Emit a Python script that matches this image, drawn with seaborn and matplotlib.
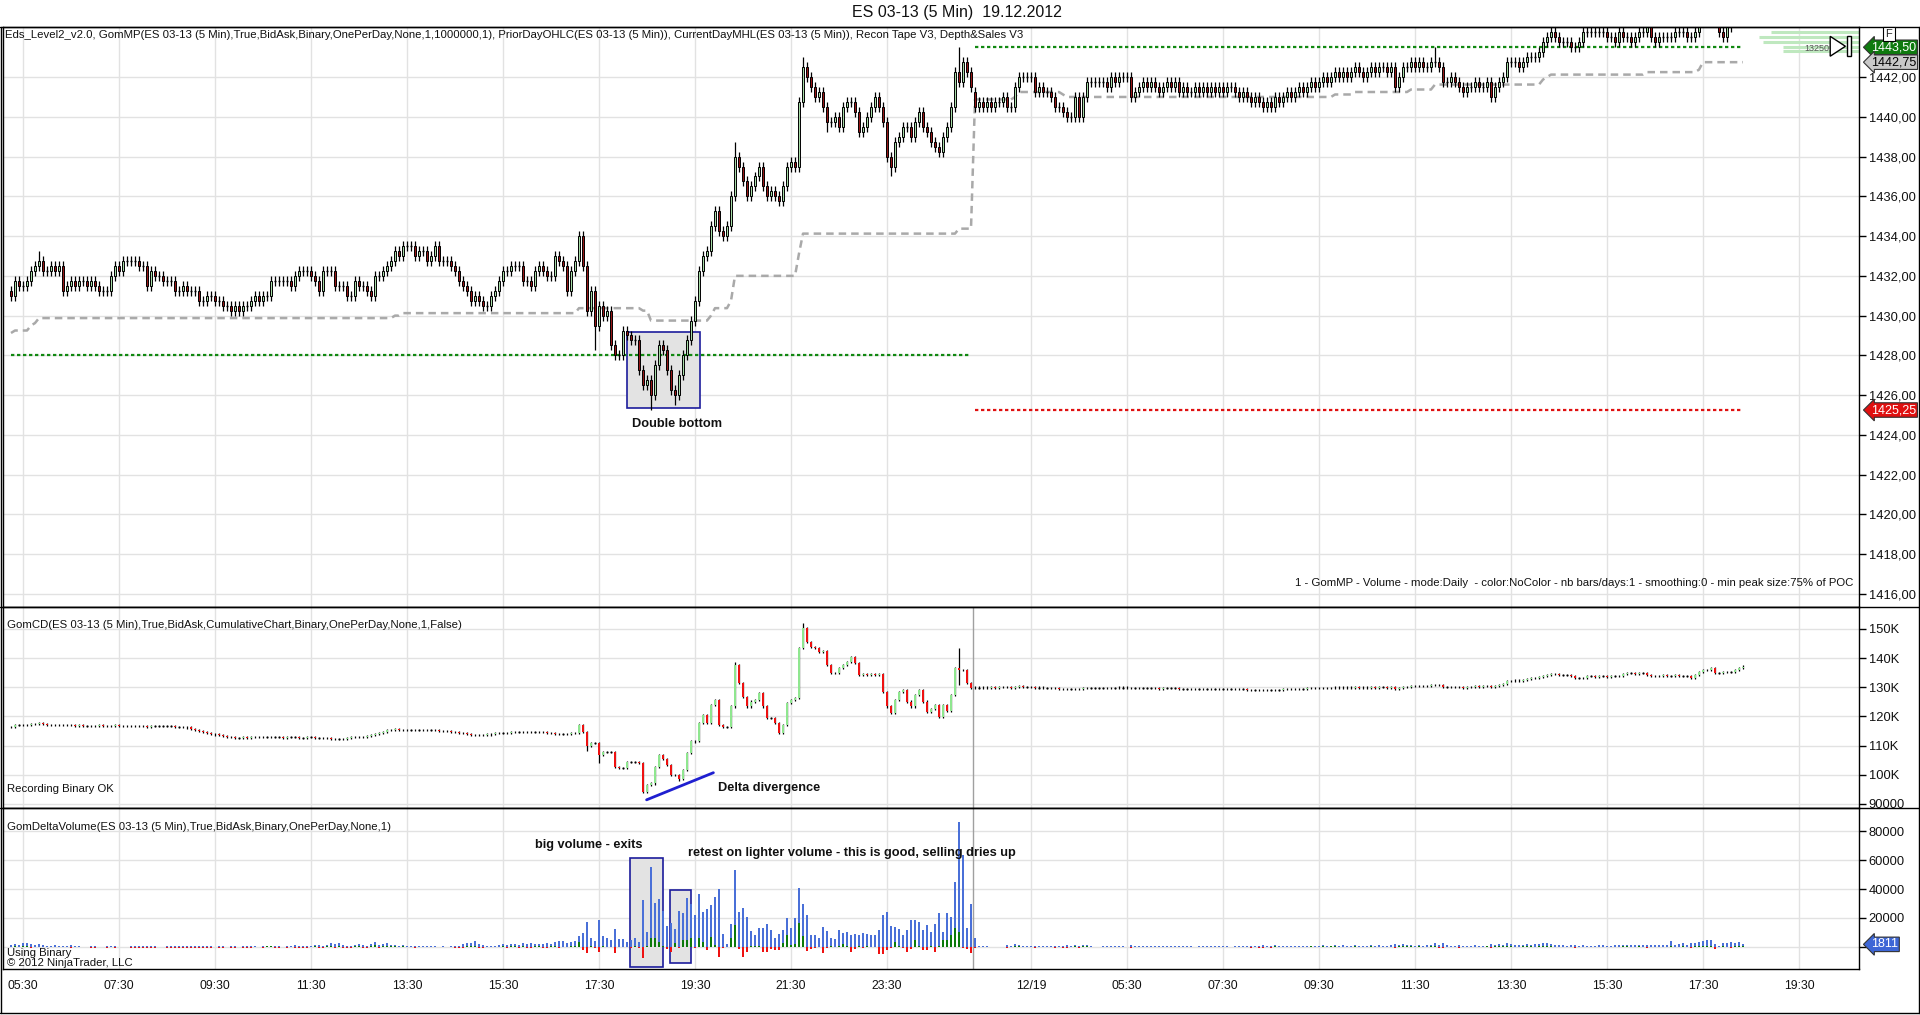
import numpy as np
import pandas as pd
import matplotlib
matplotlib.use("Agg")
import matplotlib.pyplot as plt
import matplotlib.transforms as mtransforms
from matplotlib.patches import Rectangle, Polygon
import seaborn as sns

# ---------------- data (5 min bars, bar 0 = 05:30 on 12/18) ----------------
first_bar = -3
open_d1 = 1431.25
close_d1 = [
    1431.0, 1431.75, 1431.5, 1431.5, 1431.75, 1432.25, 1432.5, 1432.75, 1432.25, 1432.25,
    1432.5, 1432.25, 1432.5, 1431.25, 1431.5, 1431.75, 1431.5, 1431.75, 1431.75, 1431.5,
    1431.75, 1431.5, 1431.25, 1431.25, 1431.25, 1432.0, 1432.5, 1432.25, 1432.75, 1432.75,
    1432.75, 1432.75, 1432.5, 1432.5, 1431.5, 1432.25, 1432.0, 1432.0, 1431.75, 1431.75,
    1431.75, 1431.25, 1431.25, 1431.5, 1431.25, 1431.25, 1431.25, 1430.75, 1430.75, 1431.0,
    1431.0, 1430.75, 1430.75, 1430.5, 1430.5, 1430.25, 1430.5, 1430.25, 1430.5, 1430.5,
    1430.75, 1431.0, 1430.75, 1431.0, 1431.0, 1431.75, 1431.75, 1431.75, 1431.75, 1431.75,
    1431.5, 1432.0, 1432.25, 1432.25, 1432.25, 1432.0, 1431.75, 1431.25, 1432.25, 1432.25,
    1432.25, 1431.5, 1431.5, 1431.5, 1431.0, 1431.0, 1431.75, 1431.5, 1431.5, 1431.25,
    1431.0, 1432.0, 1432.0, 1432.25, 1432.5, 1432.75, 1433.25, 1433.0, 1433.5, 1433.5,
    1433.5, 1433.0, 1433.25, 1433.25, 1432.75, 1433.0, 1433.5, 1432.75, 1432.75, 1432.75,
    1432.5, 1432.25, 1431.75, 1431.5, 1431.25, 1430.75, 1431.0, 1430.75, 1430.5, 1430.5,
    1431.0, 1431.25, 1431.75, 1432.25, 1432.25, 1432.5, 1432.5, 1432.5, 1431.75, 1431.75,
    1431.5, 1432.25, 1432.5, 1432.25, 1432.0, 1432.0, 1433.0, 1432.75, 1432.5, 1431.25,
    1432.25, 1432.75, 1434.0, 1432.5, 1430.25, 1431.25, 1429.5, 1430.5, 1430.0, 1430.25,
    1428.5, 1428.0, 1428.0, 1429.25, 1429.0, 1428.75, 1428.75, 1427.25, 1426.5, 1426.75,
    1426.0, 1427.5, 1428.5, 1428.25, 1427.25, 1426.25, 1426.0, 1427.0, 1428.0, 1428.75,
    1429.75, 1430.75, 1432.25, 1433.0, 1433.25, 1434.5, 1435.25, 1434.25, 1434.0, 1434.5,
    1436.0, 1438.0, 1437.5, 1436.75, 1436.0, 1436.5, 1437.0, 1437.5, 1436.5, 1436.0,
    1436.25, 1436.0, 1435.75, 1436.5, 1437.5, 1437.75, 1437.5, 1440.75, 1442.5, 1442.0,
    1441.5, 1441.0, 1441.25, 1440.5, 1439.75, 1439.75, 1440.0, 1439.5, 1440.5, 1440.75,
    1440.75, 1440.25, 1439.25, 1439.5, 1440.0, 1440.5, 1441.0, 1440.5, 1439.75, 1438.0,
    1437.5, 1438.75, 1439.0, 1439.5, 1439.5, 1439.0, 1439.75, 1440.25, 1439.5, 1439.25,
    1438.75, 1438.5, 1438.25, 1439.0, 1439.5, 1440.5, 1442.25, 1441.75, 1442.75, 1442.25,
    1441.5,
]
open_d2 = 1441.25
close_d2 = [
    1440.5, 1440.75, 1440.5, 1440.75, 1440.5, 1440.75, 1440.75, 1441.0, 1440.5, 1440.5,
    1441.5, 1442.0, 1442.0, 1442.0, 1442.0, 1441.25, 1441.5, 1441.25, 1441.25, 1441.0,
    1440.5, 1440.5, 1440.25, 1440.0, 1440.0, 1441.0, 1440.0, 1441.0, 1441.75, 1441.75,
    1441.75, 1441.75, 1441.75, 1441.5, 1442.0, 1441.75, 1442.0, 1442.0, 1442.0, 1441.0,
    1441.25, 1441.5, 1441.75, 1441.5, 1441.75, 1441.5, 1441.25, 1441.5, 1441.75, 1441.5,
    1441.75, 1441.25, 1441.5, 1441.25, 1441.25, 1441.5, 1441.25, 1441.5, 1441.25, 1441.5,
    1441.25, 1441.5, 1441.25, 1441.5, 1441.5, 1441.25, 1441.0, 1441.25, 1441.0, 1440.75,
    1441.0, 1440.75, 1440.5, 1440.75, 1440.5, 1441.0, 1440.75, 1441.0, 1441.25, 1441.0,
    1441.25, 1441.5, 1441.25, 1441.5, 1441.75, 1441.5, 1441.75, 1442.0, 1441.75, 1442.0,
    1442.25, 1442.0, 1442.25, 1442.0, 1442.25, 1442.5, 1442.25, 1442.0, 1442.25, 1442.5,
    1442.25, 1442.5, 1442.5, 1442.25, 1442.5, 1441.5, 1442.0, 1442.5, 1442.5, 1442.75,
    1442.5, 1442.75, 1442.5, 1442.5, 1442.75, 1442.75, 1442.5, 1441.75, 1441.75, 1442.0,
    1441.75, 1441.5, 1441.25, 1441.5, 1441.5, 1441.75, 1441.5, 1441.5, 1441.75, 1441.0,
    1441.5, 1441.75, 1442.0, 1442.75, 1442.75, 1442.75, 1442.5, 1442.75, 1443.0, 1443.0,
    1443.0, 1443.25, 1443.75, 1444.0, 1444.25, 1444.0, 1443.75, 1443.75, 1443.75, 1443.5,
    1443.5, 1443.75, 1444.25, 1444.25, 1444.25, 1444.25, 1444.25, 1444.25, 1444.0, 1444.0,
    1443.75, 1444.25, 1444.0, 1444.0, 1443.75, 1444.0, 1444.25, 1444.25, 1444.5, 1444.0,
    1443.75, 1444.0, 1444.0, 1444.0, 1444.0, 1444.25, 1444.25, 1444.25, 1444.0, 1444.0,
    1444.25, 1444.75, 1445.5, 1445.0, 1445.25, 1444.75, 1444.25, 1444.0, 1444.5, 1444.75,
    1445.0, 1444.75, 1445.0,
]
# longer wicks that stick out of the usual one-tick shadow
spike_high = {4: 1433.25, 25: 1433.0, 95: 1433.75, 139: 1434.25, 178: 1438.75,
              195: 1443.0, 234: 1443.5, 249: 1442.25, 353: 1443.5}
spike_low = {143: 1428.25, 157: 1425.25, 163: 1425.5, 201: 1439.25, 217: 1437.0, 367: 1440.75}
session1_high_before = 1431.75   # 12/18 session range before the first bar shown
session1_low_before = 1426.5
prior_day_high_1217 = 1428.0

# GomCD cumulative delta, thousands
cd_open_d1 = 116.3
cumdelta_d1 = [
    116.5, 117.1, 117.1, 117.2, 117.1, 117.3, 117.4, 117.6, 117.3, 117.2,
    117.1, 117.0, 117.1, 116.9, 117.0, 116.9, 116.8, 116.9, 116.8, 116.8,
    116.7, 116.8, 116.9, 116.8, 116.7, 116.8, 116.9, 116.8, 116.7, 116.8,
    116.7, 116.6, 116.7, 116.6, 116.5, 116.6, 116.6, 116.6, 116.6, 116.6,
    116.6, 116.5, 116.5, 116.4, 116.2, 115.8, 115.4, 115.1, 114.8, 114.4,
    114.1, 113.8, 113.5, 113.3, 113.1, 112.9, 112.7, 112.7, 112.8, 112.7,
    112.8, 112.9, 112.8, 112.9, 112.9, 112.8, 112.8, 112.8, 112.7, 112.8,
    112.8, 112.8, 112.7, 112.7, 112.8, 112.8, 112.7, 112.7, 112.6, 112.5,
    112.3, 112.2, 112.2, 112.4, 112.6, 112.8, 112.9, 113.0, 113.1, 113.3,
    113.6, 114.0, 114.3, 114.8, 115.2, 115.5, 115.6, 115.4, 115.5, 115.4,
    115.4, 115.3, 115.3, 115.2, 115.3, 115.3, 115.2, 115.0, 114.9, 115.0,
    114.8, 114.6, 114.4, 114.2, 114.0, 113.7, 113.6, 113.5, 113.6, 113.8,
    114.0, 114.2, 114.3, 114.3, 114.4, 114.5, 114.6, 114.6, 114.5, 114.6,
    114.7, 114.7, 114.6, 114.5, 114.3, 114.2, 114.1, 114.0, 114.0, 113.9,
    114.2, 114.4, 117.1, 114.8, 109.7, 110.8, 110.8, 106.8, 107.9, 107.9,
    107.9, 102.8, 102.2, 102.2, 104.5, 104.5, 104.5, 104.0, 94.2, 96.5,
    97.0, 102.8, 106.8, 105.5, 103.4, 99.9, 100.0, 98.5, 101.7, 107.3,
    111.4, 111.5, 117.6, 120.5, 117.6, 124.0, 125.7, 117.1, 116.5, 116.5,
    123.4, 137.7, 131.4, 126.8, 123.4, 125.1, 125.5, 128.0, 123.4, 119.4,
    119.4, 117.6, 114.4, 117.1, 124.5, 125.7, 126.2, 143.4, 150.2, 145.6,
    143.9, 143.4, 142.2, 142.5, 137.7, 134.8, 135.0, 136.5, 137.7, 138.8,
    140.5, 138.2, 134.2, 134.5, 134.2, 134.5, 134.2, 134.6, 128.5, 123.4,
    121.1, 125.7, 128.5, 129.1, 125.1, 123.4, 127.4, 129.1, 125.1, 121.6,
    122.5, 124.0, 119.9, 124.0, 122.0, 127.4, 136.5, 136.0, 135.9, 131.4,
    129.7,
]
cumdelta_d2 = [
    129.9, 129.9, 129.8, 129.9, 130.0, 129.9, 130.0, 130.1, 130.0, 129.9,
    130.2, 130.3, 130.2, 130.2, 130.1, 129.9, 129.9, 129.8, 129.8, 129.7,
    129.6, 129.5, 129.4, 129.3, 129.3, 129.5, 129.4, 129.6, 129.8, 129.8,
    129.8, 129.8, 129.8, 129.7, 129.8, 129.8, 129.9, 129.9, 129.8, 129.6,
    129.6, 129.7, 129.7, 129.7, 129.7, 129.6, 129.5, 129.6, 129.6, 129.6,
    129.6, 129.5, 129.5, 129.5, 129.4, 129.5, 129.5, 129.4, 129.4, 129.5,
    129.5, 129.4, 129.4, 129.5, 129.5, 129.4, 129.3, 129.3, 129.2, 129.1,
    129.1, 129.0, 128.9, 129.0, 129.0, 129.2, 129.2, 129.3, 129.4, 129.3,
    129.4, 129.5, 129.5, 129.6, 129.7, 129.6, 129.7, 129.8, 129.7, 129.8,
    129.9, 129.8, 129.9, 129.8, 129.9, 130.0, 129.9, 129.8, 129.9, 130.0,
    129.9, 130.0, 130.0, 129.9, 130.0, 129.5, 129.8, 130.1, 130.2, 130.4,
    130.3, 130.5, 130.4, 130.5, 130.7, 130.8, 130.6, 130.0, 130.0, 130.2,
    130.1, 130.0, 129.9, 130.0, 130.1, 130.3, 130.2, 130.3, 130.5, 130.0,
    130.4, 130.8, 131.2, 132.0, 132.2, 132.3, 132.1, 132.4, 132.8, 133.0,
    133.1, 133.4, 133.9, 134.3, 134.6, 134.4, 134.2, 134.2, 134.2, 134.0,
    133.1, 133.1, 133.3, 133.7, 133.7, 133.6, 133.7, 133.7, 133.6, 133.7,
    133.7, 133.8, 134.5, 134.8, 134.8, 134.7, 134.8, 134.8, 134.2, 134.0,
    133.9, 134.0, 134.1, 134.0, 134.0, 134.1, 134.0, 134.0, 134.0, 133.1,
    134.2, 135.2, 135.8, 136.0, 136.6, 134.8, 134.8, 135.2, 135.3, 135.3,
    136.0, 136.6, 137.1,
]
cd_spike_high = {195: 152.0, 234: 143.6, 178: 138.5}
cd_spike_low = {144: 103.9, 164: 98.0, 234: 130.9, 141: 108.0}

# GomDeltaVolume, thousands of contracts
volume_d1 = [
    1.2, 2.0, 1.5, 2.5, 2.8, 1.8, 1.5, 2.2, 1.2, 1.0,
    0.9, 1.3, 0.8, 0.6, 1.0, 1.4, 0.5, 0.6, 0.3, 0.3,
    0.4, 0.8, 0.3, 0.2, 0.6, 0.9, 0.5, 0.3, 0.3, 0.2,
    0.4, 0.6, 0.7, 0.5, 1.0, 0.8, 0.4, 0.3, 0.3, 0.4,
    0.5, 0.6, 0.8, 0.7, 0.6, 0.9, 0.5, 0.8, 0.6, 0.4,
    0.5, 0.3, 0.4, 0.5, 0.3, 0.6, 0.4, 0.3, 0.4, 0.5,
    0.5, 0.6, 0.3, 0.4, 0.8, 1.0, 0.5, 0.4, 0.3, 0.6,
    0.9, 1.2, 0.6, 0.5, 0.7, 0.9, 1.1, 1.4, 0.8, 1.6,
    2.4, 1.8, 2.6, 1.2, 1.0, 0.8, 1.5, 2.2, 1.4, 1.0,
    2.0, 3.7, 1.2, 2.0, 2.4, 1.6, 1.4, 1.0, 1.2, 0.9,
    0.8, 1.0, 0.7, 0.6, 0.8, 0.5, 0.4, 0.3, 0.4, 0.3,
    0.4, 0.5, 0.6, 1.8, 2.5, 3.0, 4.4, 2.2, 1.5, 0.8,
    0.6, 0.9, 1.2, 2.0, 1.5, 2.2, 1.8, 1.6, 2.4, 1.9,
    2.5, 2.2, 1.8, 2.1, 3.0, 2.0, 3.5, 4.0, 4.3, 3.0,
    3.7, 4.3, 7.6, 9.4, 17.5, 6.0, 4.3, 18.6, 7.6, 6.0,
    4.6, 12.4, 5.5, 5.5, 3.7, 4.6, 6.0, 3.7, 32.4, 10.6,
    55.4, 30.1, 32.9, 24.8, 14.5, 16.8, 12.4, 24.8, 23.2, 33.6,
    29.7, 22.2, 36.3, 23.9, 26.2, 29.0, 34.8, 40.1, 8.9, 2.0,
    15.9, 53.1, 24.4, 26.7, 20.4, 11.2, 8.0, 12.9, 13.3, 15.9,
    11.7, 6.4, 8.7, 11.7, 19.8, 12.9, 19.8, 40.5, 29.4, 22.2,
    8.0, 8.0, 6.0, 14.0, 11.2, 6.0, 5.5, 11.7, 9.4, 10.1,
    8.3, 8.7, 8.3, 9.4, 8.7, 8.3, 8.0, 11.7, 22.2, 23.9,
    14.7, 14.0, 12.4, 8.0, 11.7, 18.6, 18.6, 17.2, 11.7, 15.2,
    10.1, 15.9, 23.7, 10.1, 23.2, 20.4, 44.6, 86.4, 63.5, 12.9,
    29.4,
]
delta_d1 = [
    0.3, 0.6, -0.2, 0.4, 0.5, -0.4, -0.3, 0.2, -0.3, -0.2,
    0.2, -0.3, 0.2, -0.1, 0.2, -0.4, -0.1, 0.1, -0.3, -0.3,
    -0.4, -0.6, -0.3, -0.2, -0.5, 0.2, -0.5, -0.3, -0.3, -0.2,
    -0.4, -0.5, -0.6, -0.5, -0.8, -0.6, -0.4, -0.3, -0.3, -0.4,
    -0.5, -0.6, -0.7, -0.7, -0.6, -0.8, -0.5, -0.8, -0.6, -0.4,
    -0.5, -0.3, -0.4, -0.5, -0.3, -0.6, -0.4, -0.3, -0.4, -0.5,
    -0.5, 0.3, -0.3, -0.4, 0.4, 0.5, -0.5, -0.4, -0.3, -0.6,
    0.3, -0.6, -0.6, -0.5, -0.7, 0.3, 0.4, -0.7, -0.4, 0.5,
    0.8, -0.6, 0.7, -0.5, -0.4, -0.4, 0.5, 0.6, -0.5, -0.4,
    0.6, 1.2, -0.4, 0.6, 0.8, 0.5, 0.4, -0.3, 0.4, -0.3,
    -0.3, -0.4, -0.3, -0.3, 0.3, -0.3, -0.2, -0.3, -0.3, -0.3,
    -0.3, -0.4, -0.5, -0.6, 0.8, 0.9, 1.0, -0.5, -0.4, -0.3,
    0.3, 0.3, -0.3, 0.4, -0.4, 0.5, 0.4, -0.4, 0.4, -0.5,
    -0.6, 0.5, 0.4, -0.4, -0.6, 0.4, 0.9, -0.5, -0.3, 0.3,
    0.5, 0.6, 3.7, -2.1, -4.4, 1.0, -0.5, -3.2, 0.5, -0.3,
    0.3, -4.4, 0.3, -0.3, 0.3, -0.4, 0.4, -0.5, -7.8, 0.5,
    6.0, 6.0, 3.7, 0.5, -1.4, -3.2, 2.5, -0.5, 4.8, 4.8,
    6.0, -0.9, 6.0, 3.7, -2.1, 7.1, 1.3, -6.7, -0.5, 0.3,
    6.0, 15.2, -1.4, -6.7, -3.7, 0.8, 0.5, 1.0, -3.7, -3.7,
    -1.4, -2.1, -2.1, 2.5, 8.3, 1.5, 2.0, 16.3, 7.6, -2.8,
    -1.4, -0.5, 0.3, -4.4, -0.5, 0.4, 0.3, 1.0, 1.8, 0.6,
    -3.2, -1.4, 0.5, -0.5, 0.4, -0.3, 0.3, -5.1, -5.1, -2.1,
    -0.8, 3.7, 1.0, -0.9, -3.7, -1.4, 4.8, 0.8, -2.1, -2.1,
    0.5, -3.2, 0.8, 4.8, 4.8, 8.3, 12.9, 10.6, -0.5, -1.4,
    -4.4,
]
volume_d2 = [
    6.0, 1.0, 0.8, 0.6, 0.2, 0.2, 0.3, 0.2, 1.2, 0.8,
    2.0, 1.5, 0.6, 0.4, 0.5, 1.0, 0.6, 0.4, 0.5, 0.7,
    0.9, 0.6, 0.8, 1.1, 0.6, 1.2, 1.0, 1.3, 1.6, 0.5,
    0.3, 0.3, 0.4, 0.5, 0.8, 0.4, 0.6, 0.5, 0.3, 1.2,
    0.6, 0.7, 0.8, 0.5, 0.4, 0.5, 0.7, 0.6, 0.5, 0.4,
    0.5, 0.6, 0.4, 0.5, 0.4, 0.3, 0.4, 0.5, 0.4, 0.6,
    0.5, 0.4, 0.6, 0.5, 0.3, 0.5, 0.7, 0.6, 0.8, 0.9,
    0.7, 1.0, 1.2, 0.8, 1.0, 1.1, 0.7, 0.9, 0.8, 0.6,
    0.7, 0.9, 0.6, 0.8, 1.0, 0.7, 0.9, 1.2, 0.8, 1.0,
    1.3, 0.9, 1.1, 0.8, 1.0, 1.4, 0.9, 0.8, 1.0, 1.2,
    0.9, 1.1, 0.8, 1.0, 1.2, 2.2, 1.4, 1.8, 1.2, 1.5,
    1.0, 1.3, 0.9, 1.1, 1.6, 3.0, 1.4, 2.4, 1.2, 1.0,
    0.8, 1.2, 1.0, 0.9, 0.7, 1.1, 0.8, 0.9, 1.0, 2.0,
    1.4, 1.8, 1.6, 2.6, 1.8, 1.4, 1.2, 1.5, 2.0, 1.6,
    1.8, 2.2, 2.8, 2.4, 2.0, 1.6, 1.4, 1.2, 1.0, 1.1,
    1.4, 1.0, 1.2, 0.9, 1.0, 0.8, 1.1, 1.3, 1.0, 0.9,
    1.2, 1.4, 1.6, 1.3, 1.5, 1.2, 1.7, 1.4, 1.6, 1.5,
    1.3, 1.6, 1.4, 1.5, 4.1, 1.2, 1.8, 2.6, 1.6, 2.4,
    3.0, 3.4, 4.2, 5.0, 4.6, 2.0, 0.8, 2.6, 3.0, 3.6,
    2.8, 3.4, 1.811,
]
delta_d2 = [
    -0.5, -0.3, -0.3, 0.2, 0.1, 0.1, 0.2, 0.1, -0.4, -0.3,
    0.6, 0.4, 0.2, -0.2, -0.2, -0.4, 0.2, -0.2, -0.2, -0.3,
    -0.4, -0.3, -0.4, -0.5, -0.3, 0.4, -0.4, 0.4, 0.5, -0.2,
    0.1, -0.1, 0.1, -0.2, 0.3, -0.2, 0.2, 0.1, -0.1, -0.5,
    0.2, 0.3, 0.3, -0.2, 0.2, -0.2, -0.3, 0.2, 0.2, -0.2,
    0.2, -0.3, 0.2, -0.2, -0.2, 0.2, -0.2, 0.2, -0.2, 0.2,
    -0.2, 0.2, -0.2, 0.2, 0.1, -0.2, -0.3, 0.2, -0.3, -0.4,
    0.3, -0.4, -0.5, 0.3, -0.4, 0.4, -0.3, 0.3, 0.3, -0.2,
    0.3, 0.3, -0.2, 0.3, 0.4, -0.3, 0.3, 0.4, -0.3, 0.4,
    0.4, -0.3, 0.3, -0.3, 0.3, 0.5, -0.3, -0.3, 0.3, 0.4,
    -0.3, 0.3, 0.2, -0.3, 0.3, -0.8, 0.4, 0.6, 0.4, 0.4,
    -0.3, 0.4, -0.3, 0.3, 0.5, 0.6, -0.4, -0.8, -0.3, 0.3,
    -0.3, -0.4, -0.3, 0.3, -0.2, 0.3, -0.3, 0.3, 0.4, -0.8,
    0.5, 0.6, 0.5, 0.9, 0.4, 0.3, -0.3, 0.4, 0.6, 0.4,
    0.3, 0.5, 0.8, 0.6, 0.5, -0.3, -0.3, 0.2, -0.2, -0.3,
    -0.8, -0.2, 0.3, 0.3, -0.2, 0.2, 0.3, 0.2, -0.2, 0.2,
    0.2, 0.3, 0.8, 0.4, -0.2, 0.3, 0.4, -0.3, -0.5, -0.3,
    -0.3, 0.3, 0.3, -0.3, 0.4, 0.2, -0.3, 0.4, -0.3, -0.8,
    0.9, 1.0, 0.7, 0.5, 0.6, -1.2, -0.3, 0.4, 0.3, -0.5,
    0.7, 0.6, 0.5,
]

tick_bars = [0, 24, 48, 72, 96, 120, 144, 168, 192, 216,
             252, 276, 300, 324, 348, 372, 396, 420, 444]
tick_labels = ["05:30", "07:30", "09:30", "11:30", "13:30", "15:30", "17:30", "19:30",
               "21:30", "23:30", "12/19", "05:30", "07:30", "09:30", "11:30", "13:30",
               "15:30", "17:30", "19:30"]

# depth ladder shown by Depth&Sales at the right edge
depth_prices = [1444.25, 1444.0, 1443.75, 1443.5, 1443.3]
depth_sizes = [22, 25, 24, 19, 19]

# ---------------- derived series ----------------
n1, n2 = len(close_d1), len(close_d2)
assert len(cumdelta_d1) == n1 and len(volume_d1) == n1 and len(delta_d1) == n1
assert len(cumdelta_d2) == n2 and len(volume_d2) == n2 and len(delta_d2) == n2
bars = np.arange(first_bar, first_bar + n1 + n2)
close = np.array(close_d1 + close_d2)
opn = np.r_[open_d1, close[:-1]]
opn[n1] = open_d2
hi = np.maximum(opn, close) + 0.25
lo = np.minimum(opn, close) - 0.25
for b, v in spike_high.items():
    hi[b - first_bar] = v
for b, v in spike_low.items():
    lo[b - first_bar] = v

# CurrentDayMHL mid line
mid = np.empty(len(bars))
h_run, l_run = session1_high_before, session1_low_before
for k in range(len(bars)):
    if k == n1:
        h_run, l_run = hi[k], lo[k]
    h_run, l_run = max(h_run, hi[k]), min(l_run, lo[k])
    mid[k] = (h_run + l_run) / 2
day1_high, day1_low = hi[:n1].max(), lo[:n1].min()

cd = np.array(cumdelta_d1 + cumdelta_d2)
cd_open = np.r_[cd_open_d1, cd[:-1]]
cd_hi = np.maximum(cd_open, cd) + 0.35
cd_lo = np.minimum(cd_open, cd) - 0.35
for b, v in cd_spike_high.items():
    cd_hi[b - first_bar] = v
for b, v in cd_spike_low.items():
    cd_lo[b - first_bar] = v

vol = np.array(volume_d1 + volume_d2)
dlt = np.array(delta_d1 + delta_d2)

df_mid = pd.DataFrame({"bar": bars, "mid": mid})
df_pd1 = pd.DataFrame({"bar": bars[:n1], "level": prior_day_high_1217})
df_pdh = pd.DataFrame({"bar": bars[n1:], "level": day1_high})
df_pdl = pd.DataFrame({"bar": bars[n1:], "level": day1_low})

# ---------------- style ----------------
sns.set_theme(style="white")
plt.rcParams["font.family"] = ["Liberation Sans", "DejaVu Sans"]
plt.rcParams["patch.force_edgecolor"] = False
GRID = "#e2e2e2"
TXT = "#111111"
SMALL = 8.2
BOLD = ["Liberation Sans", "DejaVu Sans"]

fig = plt.figure(figsize=(19.2, 10.15), dpi=100)
fig.patch.set_facecolor("white")
L, W = 3 / 1920, 1856 / 1920
ax1 = fig.add_axes([L, 1 - 607 / 1015, W, 580 / 1015])
ax2 = fig.add_axes([L, 1 - 808 / 1015, W, 201 / 1015], sharex=ax1)
ax3 = fig.add_axes([L, 1 - 969 / 1015, W, 161 / 1015], sharex=ax1)


def candles(ax, x, o, c, h, l, up_c, dn_c, edge, width, elw):
    ax.vlines(x, l, h, color="black", lw=0.9, zorder=3)
    body = c - o
    up, dn, fl = body > 0, body < 0, body == 0
    ax.bar(x[up], body[up], bottom=o[up], width=width, color=up_c,
           edgecolor=edge, linewidth=elw, zorder=4)
    ax.bar(x[dn], body[dn], bottom=o[dn], width=width, color=dn_c,
           edgecolor=edge, linewidth=elw, zorder=4)
    ax.hlines(c[fl], x[fl] - width / 2, x[fl] + width / 2, color="black", lw=1.0, zorder=4)


# ---------------- price panel ----------------
ax1.add_patch(Rectangle((151, 1425.35), 18.25, 3.85, facecolor="#e3e3e3",
                        edgecolor="#1c1c9c", lw=1.2, zorder=1))
dots = (0, (1.5, 1.2))
sns.lineplot(data=df_pd1, x="bar", y="level", ax=ax1, color="#118811", lw=1.6,
             linestyle=dots, zorder=2)
sns.lineplot(data=df_pdh, x="bar", y="level", ax=ax1, color="#118811", lw=1.6,
             linestyle=dots, zorder=2)
sns.lineplot(data=df_pdl, x="bar", y="level", ax=ax1, color="#e01010", lw=1.6,
             linestyle=dots, zorder=2)
sns.lineplot(data=df_mid, x="bar", y="mid", ax=ax1, color="#a9a9a9", lw=1.8,
             linestyle=(0, (3, 2)), zorder=2)
candles(ax1, bars, opn, close, hi, lo, "#a6dba6", "#961616", "black", 0.68, 0.7)

for p, s in zip(depth_prices, depth_sizes):
    ax1.hlines(p, 459 - s, 459, color="#bfe8bf", lw=2.2, zorder=2)
ax1.text(451.7, 1443.45, "13250", fontsize=6.5, color="#555555", ha="right", va="center", zorder=5)
ax1.add_patch(Polygon([[451.8, 1444.05], [455.6, 1443.55], [451.8, 1443.05]], closed=True,
                      facecolor="white", edgecolor="black", lw=1, zorder=5))
ax1.add_patch(Rectangle((456.0, 1443.05), 0.9, 1.0, facecolor="white", edgecolor="black",
                        lw=1, zorder=5))

ax1.set_ylim(1415.34, 1444.52)
pticks = np.arange(1416, 1443, 2)
ax1.set_yticks(pticks)
ax1.set_yticklabels([f"{v:.2f}".replace(".", ",") for v in pticks])

ax1.text(0.001, 0.986,
         "Eds_Level2_v2.0, GomMP(ES 03-13 (5 Min),True,BidAsk,Binary,OnePerDay,None,1,1000000,1), "
         "PriorDayOHLC(ES 03-13 (5 Min)), CurrentDayMHL(ES 03-13 (5 Min)), Recon Tape V3, Depth&Sales V3",
         transform=ax1.transAxes, fontsize=SMALL, va="center", ha="left", color=TXT)
ax1.text(0.9968, 0.041,
         "1 - GomMP - Volume - mode:Daily  - color:NoColor - nb bars/days:1 - smoothing:0 - min peak size:75% of POC",
         transform=ax1.transAxes, fontsize=SMALL, va="center", ha="right", color=TXT)
ax1.text(163.5, 1424.55, "Double bottom", fontsize=9.2, fontweight="bold", ha="center",
         va="center", family=BOLD, color=TXT)

tr1 = mtransforms.blended_transform_factory(ax1.transAxes, ax1.transData)


def tag(ax, tr, y, s, fc, tc):
    ax.text(1.0065, y, s, transform=tr, fontsize=9, color=tc, va="center", ha="left",
            bbox=dict(boxstyle="larrow,pad=0.1", fc=fc, ec="#333333", lw=0.8),
            zorder=10, clip_on=False)


tag(ax1, tr1, day1_high, f"{day1_high:.2f}".replace(".", ","), "#0e7a0e", "white")
tag(ax1, tr1, mid[-1], f"{mid[-1]:.2f}".replace(".", ","), "#c8c8c8", "black")
tag(ax1, tr1, day1_low, f"{day1_low:.2f}".replace(".", ","), "#e01010", "white")

# ---------------- cumulative delta panel ----------------
ax2.axvline(first_bar + n1 - 0.5, color="#a0a0a0", lw=1, zorder=1)
candles(ax2, bars, cd_open, cd, cd_hi, cd_lo, "#8fe68f", "#ee1111", "none", 0.72, 0)
ax2.plot([155.9, 172.6], [91.4, 100.7], color="#1f1fd0", lw=2, zorder=5)
ax2.text(173.8, 95.6, "Delta divergence", fontsize=9.2, fontweight="bold", va="center",
         family=BOLD, color=TXT)
ax2.set_ylim(88.6, 157.5)
cticks = [90, 100, 110, 120, 130, 140, 150]
ax2.set_yticks(cticks)
ax2.set_yticklabels(["90000"] + [f"{v}K" for v in cticks[1:]])
ax2.text(0.002, 0.91,
         "GomCD(ES 03-13 (5 Min),True,BidAsk,CumulativeChart,Binary,OnePerDay,None,1,False)",
         transform=ax2.transAxes, fontsize=SMALL, va="center", color=TXT)
ax2.text(0.002, 0.095, "Recording Binary OK", transform=ax2.transAxes, fontsize=SMALL,
         va="center", color=TXT)

# ---------------- delta volume panel ----------------
ax3.axvline(first_bar + n1 - 0.5, color="#a0a0a0", lw=1, zorder=1)
ax3.add_patch(Rectangle((151.75, -13.6), 8.15, 74.8, facecolor="#e3e3e3",
                        edgecolor="#1c1c9c", lw=1.2, zorder=1))
ax3.add_patch(Rectangle((161.8, -11.2), 5.1, 50.5, facecolor="#e3e3e3",
                        edgecolor="#1c1c9c", lw=1.2, zorder=1))
bw = 0.66
ax3.bar(bars, vol, width=bw, color="#4a70d8", edgecolor="none", linewidth=0,
        antialiased=False, zorder=3)
pos = dlt > 0
ax3.bar(bars[pos], dlt[pos], width=bw, color="#0b7a0b", edgecolor="none", linewidth=0,
        antialiased=False, zorder=4)
ax3.bar(bars[~pos], dlt[~pos], width=bw, color="#ee1111", edgecolor="none", linewidth=0,
        antialiased=False, zorder=4)
ax3.set_ylim(-15.2, 95.9)
vticks = [0, 20, 40, 60, 80]
ax3.set_yticks(vticks)
ax3.set_yticklabels(["", "20000", "40000", "60000", "80000"])
ax3.text(128, 70.3, "big volume - exits", fontsize=9.2, fontweight="bold", va="center",
         family=BOLD, color=TXT)
ax3.text(166.25, 64.8, "retest on lighter volume - this is good, selling dries up",
         fontsize=9.2, fontweight="bold", va="center", family=BOLD, color=TXT)
ax3.text(0.002, 0.884, "GomDeltaVolume(ES 03-13 (5 Min),True,BidAsk,Binary,OnePerDay,None,1)",
         transform=ax3.transAxes, fontsize=SMALL, va="center", color=TXT)
ax3.text(0.002, 0.10, "Using Binary", transform=ax3.transAxes, fontsize=SMALL, va="center",
         color=TXT)
ax3.text(0.002, 0.04, "\u00a9 2012 NinjaTrader, LLC", transform=ax3.transAxes, fontsize=SMALL,
         va="center", color=TXT)
tr3 = mtransforms.blended_transform_factory(ax3.transAxes, ax3.transData)
tag(ax3, tr3, vol[-1], f"{vol[-1] * 1000:.0f}", "#3d66d6", "white")

# ---------------- axes cosmetics ----------------
for ax in (ax1, ax2, ax3):
    ax.set_xlabel("")
    ax.set_ylabel("")
    ax.set_facecolor("white")
    ax.grid(True, color=GRID, lw=1)
    ax.set_axisbelow(True)
    ax.yaxis.tick_right()
    ax.tick_params(axis="y", direction="out", length=5, width=1, color="black",
                   labelsize=9.3, pad=2, labelcolor=TXT)
    ax.tick_params(axis="x", length=0, labelbottom=False)
    for s in ax.spines.values():
        s.set_color("black")
        s.set_linewidth(1)
    ax.set_xticks(tick_bars)
ax1.set_xlim(-5, 459)
ax3.tick_params(axis="x", direction="out", length=5, width=1, color="black",
                labelbottom=True, labelsize=8.8, pad=3, labelcolor=TXT)
ax3.set_xticklabels(tick_labels)

# ---------------- frame, title ----------------
for ypx in (27, 607, 808, 1013):
    fig.add_artist(plt.Line2D([0, 1], [1 - ypx / 1015] * 2, color="black", lw=1,
                              transform=fig.transFigure))
fig.add_artist(plt.Line2D([0.0004, 0.0004], [1 - 27 / 1015, 1 - 1013 / 1015], color="black",
                          lw=1, transform=fig.transFigure))
fig.add_artist(plt.Line2D([0.9995, 0.9995], [1 - 27 / 1015, 1 - 1013 / 1015], color="black",
                          lw=1, transform=fig.transFigure))
fig.text(0.4985, 1 - 13 / 1015, "ES 03-13 (5 Min)  19.12.2012", fontsize=11.5, ha="center",
         va="center", color=TXT)
fig.text(1889 / 1920, 1 - 34 / 1015, "F", fontsize=8, ha="center", va="center",
         bbox=dict(boxstyle="square,pad=0.2", fc="white", ec="black", lw=0.8))

fig.savefig("out.png", dpi=100)
